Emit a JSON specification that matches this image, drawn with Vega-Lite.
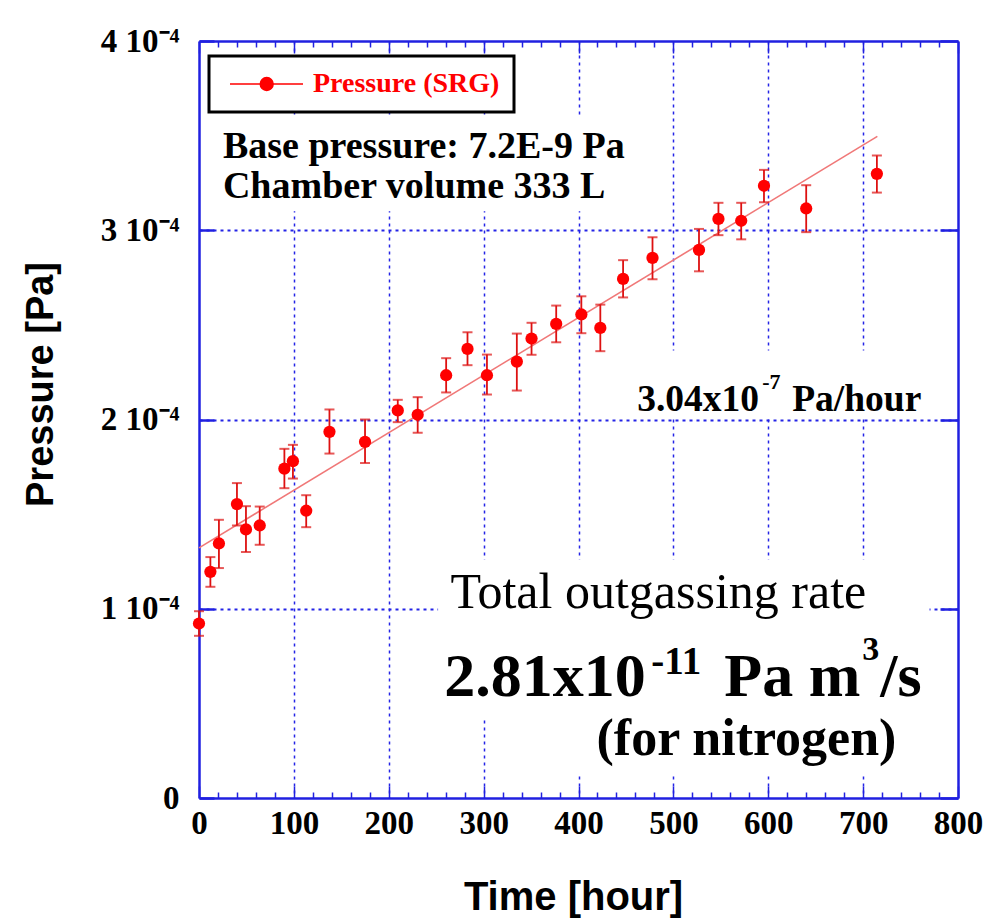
{
  "$schema": "https://vega.github.io/schema/vega-lite/v6.json",
  "width": 759,
  "height": 757,
  "autosize": {"type": "none"},
  "padding": {"left": 199, "top": 41, "right": 41, "bottom": 125},
  "background": "white",
  "config": {"view": {"stroke": null}},
  "data": {"values": [{"note": "annotation"}]},
  "datasets": {
    "pts": [
      {"t": 0, "p": 9.22e-5, "lo": 8.57e-5, "hi": 9.87e-5},
      {"t": 12, "p": 1.195e-4, "lo": 1.116e-4, "hi": 1.273e-4},
      {"t": 21, "p": 1.345e-4, "lo": 1.215e-4, "hi": 1.47e-4},
      {"t": 40, "p": 1.553e-4, "lo": 1.44e-4, "hi": 1.664e-4},
      {"t": 49.5, "p": 1.419e-4, "lo": 1.30e-4, "hi": 1.542e-4},
      {"t": 64, "p": 1.44e-4, "lo": 1.338e-4, "hi": 1.54e-4},
      {"t": 90, "p": 1.74e-4, "lo": 1.637e-4, "hi": 1.845e-4},
      {"t": 99, "p": 1.78e-4, "lo": 1.688e-4, "hi": 1.866e-4},
      {"t": 113, "p": 1.518e-4, "lo": 1.431e-4, "hi": 1.60e-4},
      {"t": 137.5, "p": 1.935e-4, "lo": 1.82e-4, "hi": 2.053e-4},
      {"t": 175, "p": 1.882e-4, "lo": 1.77e-4, "hi": 2.0e-4},
      {"t": 209.5, "p": 2.048e-4, "lo": 1.986e-4, "hi": 2.104e-4},
      {"t": 230.5, "p": 2.025e-4, "lo": 1.93e-4, "hi": 2.118e-4},
      {"t": 260.5, "p": 2.234e-4, "lo": 2.143e-4, "hi": 2.324e-4},
      {"t": 283, "p": 2.373e-4, "lo": 2.287e-4, "hi": 2.461e-4},
      {"t": 303.5, "p": 2.234e-4, "lo": 2.132e-4, "hi": 2.343e-4},
      {"t": 335, "p": 2.306e-4, "lo": 2.153e-4, "hi": 2.454e-4},
      {"t": 350.5, "p": 2.428e-4, "lo": 2.342e-4, "hi": 2.511e-4},
      {"t": 376.5, "p": 2.505e-4, "lo": 2.408e-4, "hi": 2.602e-4},
      {"t": 403, "p": 2.555e-4, "lo": 2.456e-4, "hi": 2.651e-4},
      {"t": 423, "p": 2.484e-4, "lo": 2.361e-4, "hi": 2.607e-4},
      {"t": 447, "p": 2.743e-4, "lo": 2.645e-4, "hi": 2.842e-4},
      {"t": 478, "p": 2.854e-4, "lo": 2.741e-4, "hi": 2.963e-4},
      {"t": 527, "p": 2.896e-4, "lo": 2.783e-4, "hi": 3.007e-4},
      {"t": 547.5, "p": 3.06e-4, "lo": 2.974e-4, "hi": 3.145e-4},
      {"t": 571.5, "p": 3.05e-4, "lo": 2.952e-4, "hi": 3.145e-4},
      {"t": 595.5, "p": 3.235e-4, "lo": 3.148e-4, "hi": 3.319e-4},
      {"t": 640, "p": 3.115e-4, "lo": 2.99e-4, "hi": 3.238e-4},
      {"t": 714.5, "p": 3.298e-4, "lo": 3.199e-4, "hi": 3.395e-4}
    ],
    "fit": [
      {"t": 0, "fit": 1.322e-4},
      {"t": 715, "fit": 3.496e-4}
    ]
  },
  "layer": [
    {
      "mark": {"type": "rect", "fill": "white"},
      "encoding": {
        "x": {"datum": 6, "type": "quantitative", "scale": {"domain": [0, 800], "nice": false}, "axis": null},
        "x2": {"datum": 464},
        "y": {"datum": 3.1e-4, "type": "quantitative", "scale": {"domain": [0, 4e-4], "nice": false}, "axis": null},
        "y2": {"datum": 3.6e-4}
      }
    },
    {
      "mark": {"type": "rect", "fill": "white"},
      "encoding": {
        "x": {"datum": 432, "type": "quantitative", "axis": null},
        "x2": {"datum": 797},
        "y": {"datum": 2.012e-4, "type": "quantitative", "axis": null},
        "y2": {"datum": 2.365e-4}
      }
    },
    {
      "mark": {"type": "rect", "fill": "white"},
      "encoding": {
        "x": {"datum": 252, "type": "quantitative", "axis": null},
        "x2": {"datum": 770},
        "y": {"datum": 0.426e-4, "type": "quantitative", "axis": null},
        "y2": {"datum": 1.26e-4}
      }
    },
    {
      "mark": {"type": "rect", "fill": "white"},
      "encoding": {
        "x": {"datum": 316, "type": "quantitative", "axis": null},
        "x2": {"datum": 770},
        "y": {"datum": 0.12e-4, "type": "quantitative", "axis": null},
        "y2": {"datum": 0.426e-4}
      }
    },
    {
      "data": {"name": "fit"},
      "mark": {"type": "line", "color": "#f07878", "strokeWidth": 1.6},
      "encoding": {
        "x": {
          "field": "t", "type": "quantitative",
          "scale": {"domain": [0, 800], "nice": false},
          "axis": {
            "orient": "top", "labels": false, "title": null, "grid": false,
            "values": [0,20,40,60,80,100,120,140,160,180,200,220,240,260,280,300,320,340,360,380,400,420,440,460,480,500,520,540,560,580,600,620,640,660,680,700,720,740,760,780,800],
            "tickSize": -12, "tickColor": "#2020e0", "tickWidth": 1.5,
            "tickDash": {"condition": {"test": "datum.value % 100 !== 0", "value": [6, 40]}, "value": [40, 0]},
            "domainColor": "#2020e0", "domainWidth": 2.5
          }
        },
        "y": {
          "field": "fit", "type": "quantitative",
          "scale": {"domain": [0, 4e-4], "nice": false},
          "axis": {
            "orient": "right", "labels": false, "title": null, "grid": false,
            "values": [0, 1e-4, 2e-4, 3e-4, 4e-4],
            "tickSize": -18, "tickColor": "#2020e0", "tickWidth": 2.5,
            "domainColor": "#2020e0", "domainWidth": 2.5
          }
        }
      }
    },
    {
      "data": {"name": "pts"},
      "mark": {"type": "errorbar", "ticks": {"size": 10, "thickness": 2, "color": "#dd1111"}, "rule": {"color": "#dd1111", "strokeWidth": 1.8}},
      "encoding": {
        "x": {"field": "t", "type": "quantitative", "scale": {"domain": [0, 800], "nice": false}, "axis": null},
        "y": {"field": "lo", "type": "quantitative", "scale": {"domain": [0, 4e-4], "nice": false}, "axis": null},
        "y2": {"field": "hi"}
      }
    },
    {
      "data": {"name": "pts"},
      "mark": {"type": "point", "filled": true, "size": 150, "opacity": 1},
      "encoding": {
        "x": {
          "field": "t", "type": "quantitative",
          "scale": {"domain": [0, 800], "nice": false},
          "axis": {
            "orient": "bottom",
            "values": [0,20,40,60,80,100,120,140,160,180,200,220,240,260,280,300,320,340,360,380,400,420,440,460,480,500,520,540,560,580,600,620,640,660,680,700,720,740,760,780,800],
            "format": "d",
            "labelExpr": "datum.value % 100 === 0 ? datum.label : ''",
            "labelFont": "Liberation Serif", "labelFontWeight": "bold", "labelFontSize": 33, "labelColor": "black",
            "labelPadding": 21, "labelFlush": false, "labelOverlap": false,
            "tickSize": -12, "tickColor": "#2020e0", "tickWidth": 1.5,
            "tickDash": {"condition": {"test": "datum.value % 100 !== 0", "value": [6, 40]}, "value": [40, 0]},
            "domainColor": "#2020e0", "domainWidth": 2.5,
            "grid": true, "gridColor": "#2424e6", "gridDash": [3, 4], "gridWidth": 1.5,
            "gridOpacity": {"condition": {"test": "datum.value % 100 === 0 && datum.value > 0 && datum.value < 800", "value": 1}, "value": 0},
            "title": "Time [hour]",
            "titleFont": "Liberation Sans", "titleFontWeight": "bold", "titleFontSize": 40, "titleColor": "black",
            "titleX": 374, "titleY": 111, "titleBaseline": "alphabetic", "titleAlign": "center"
          }
        },
        "y": {
          "field": "p", "type": "quantitative",
          "scale": {"domain": [0, 4e-4], "nice": false},
          "axis": {
            "orient": "left",
            "values": [0, 1e-4, 2e-4, 3e-4, 4e-4],
            "labelExpr": "datum.value === 0 ? '0' : round(datum.value * 1e4) + ' 10⁻⁴'",
            "labelFont": "Liberation Serif", "labelFontWeight": "bold", "labelFontSize": 33, "labelColor": "black",
            "labelPadding": 35, "labelFlush": false, "labelOverlap": false,
            "tickSize": -15, "tickColor": "#2020e0", "tickWidth": 2.5,
            "domainColor": "#2020e0", "domainWidth": 2.5,
            "grid": true, "gridColor": "#2424e6", "gridDash": [3, 4], "gridWidth": 2,
            "gridOpacity": {"condition": {"test": "datum.value > 1e-6 && datum.value < 3.9e-4", "value": 1}, "value": 0},
            "title": "Pressure [Pa]",
            "titleFont": "Liberation Sans", "titleFontWeight": "bold", "titleFontSize": 38, "titleColor": "black",
            "titleX": -158, "titleY": 343, "titleAngle": 270, "titleBaseline": "middle", "titleAlign": "center"
          }
        },
        "color": {
          "datum": "Pressure (SRG)", "type": "nominal",
          "scale": {"range": ["#ff0000"]},
          "legend": {
            "title": null, "orient": "none", "legendX": 10, "legendY": 15,
            "padding": 14, "strokeColor": "black", "fillColor": "white", "cornerRadius": 0,
            "symbolType": "M-0.7,0H6.6M3.62,0A0.65,0.65 0 1,1 2.32,0A0.65,0.65 0 1,1 3.62,0Z",
            "symbolSize": 400, "symbolOpacity": 1,
            "symbolFillColor": "#ff0000", "symbolStrokeColor": "#ff0000", "symbolStrokeWidth": 1.4,
            "labelOffset": 62, "labelLimit": 400,
            "labelFont": "Liberation Serif", "labelFontWeight": "bold", "labelFontSize": 28, "labelColor": "#ff0000",
            "encode": {
              "legend": {"update": {"strokeWidth": {"value": 3}}},
              "symbols": {"update": {"stroke": {"value": "#ff0000"}, "strokeWidth": {"value": 1.4}, "fill": {"value": "#ff0000"}}}
            }
          }
        }
      }
    },
    {
      "mark": {"type": "text", "text": "Base pressure: 7.2E-9 Pa", "font": "Liberation Serif", "fontWeight": "bold", "fontSize": 38, "align": "left", "baseline": "alphabetic", "color": "black"},
      "encoding": {
        "x": {"datum": 25.2, "type": "quantitative", "axis": null},
        "y": {"datum": 3.384e-4, "type": "quantitative", "axis": null}
      }
    },
    {
      "mark": {"type": "text", "text": "Chamber volume 333 L", "font": "Liberation Serif", "fontWeight": "bold", "fontSize": 38, "align": "left", "baseline": "alphabetic", "color": "black"},
      "encoding": {
        "x": {"datum": 25.2, "type": "quantitative", "axis": null},
        "y": {"datum": 3.173e-4, "type": "quantitative", "axis": null}
      }
    },
    {
      "mark": {"type": "text", "text": "3.04x10", "font": "Liberation Serif", "fontWeight": "bold", "fontSize": 37.5, "align": "left", "baseline": "alphabetic", "color": "black"},
      "encoding": {
        "x": {"datum": 461.8, "type": "quantitative", "axis": null},
        "y": {"datum": 2.0454e-4, "type": "quantitative", "axis": null}
      }
    },
    {
      "mark": {"type": "text", "text": "-7", "font": "Liberation Serif", "fontWeight": "bold", "fontSize": 22, "align": "left", "baseline": "alphabetic", "color": "black", "dx": 125, "dy": -22},
      "encoding": {
        "x": {"datum": 461.8, "type": "quantitative", "axis": null},
        "y": {"datum": 2.0454e-4, "type": "quantitative", "axis": null}
      }
    },
    {
      "mark": {"type": "text", "text": "Pa/hour", "font": "Liberation Serif", "fontWeight": "bold", "fontSize": 37.5, "align": "left", "baseline": "alphabetic", "color": "black", "dx": 155},
      "encoding": {
        "x": {"datum": 461.8, "type": "quantitative", "axis": null},
        "y": {"datum": 2.0454e-4, "type": "quantitative", "axis": null}
      }
    },
    {
      "mark": {"type": "text", "text": "Total outgassing rate", "font": "Liberation Serif", "fontWeight": "normal", "fontSize": 50, "align": "left", "baseline": "alphabetic", "color": "black"},
      "encoding": {
        "x": {"datum": 265, "type": "quantitative", "axis": null},
        "y": {"datum": 1.003e-4, "type": "quantitative", "axis": null}
      }
    },
    {
      "mark": {"type": "text", "text": "2.81x10", "font": "Liberation Serif", "fontWeight": "bold", "fontSize": 62, "align": "left", "baseline": "alphabetic", "color": "black"},
      "encoding": {
        "x": {"datum": 258.6, "type": "quantitative", "axis": null},
        "y": {"datum": 0.5378e-4, "type": "quantitative", "axis": null}
      }
    },
    {
      "mark": {"type": "text", "text": "-11", "font": "Liberation Serif", "fontWeight": "bold", "fontSize": 39, "align": "left", "baseline": "alphabetic", "color": "black", "dx": 207, "dy": -22},
      "encoding": {
        "x": {"datum": 258.6, "type": "quantitative", "axis": null},
        "y": {"datum": 0.5378e-4, "type": "quantitative", "axis": null}
      }
    },
    {
      "mark": {"type": "text", "text": "Pa m", "font": "Liberation Serif", "fontWeight": "bold", "fontSize": 62, "align": "left", "baseline": "alphabetic", "color": "black", "dx": 280},
      "encoding": {
        "x": {"datum": 258.6, "type": "quantitative", "axis": null},
        "y": {"datum": 0.5378e-4, "type": "quantitative", "axis": null}
      }
    },
    {
      "mark": {"type": "text", "text": "3", "font": "Liberation Serif", "fontWeight": "bold", "fontSize": 34, "align": "left", "baseline": "alphabetic", "color": "black", "dx": 418, "dy": -36},
      "encoding": {
        "x": {"datum": 258.6, "type": "quantitative", "axis": null},
        "y": {"datum": 0.5378e-4, "type": "quantitative", "axis": null}
      }
    },
    {
      "mark": {"type": "text", "text": "/s", "font": "Liberation Serif", "fontWeight": "bold", "fontSize": 62, "align": "left", "baseline": "alphabetic", "color": "black", "dx": 436},
      "encoding": {
        "x": {"datum": 258.6, "type": "quantitative", "axis": null},
        "y": {"datum": 0.5378e-4, "type": "quantitative", "axis": null}
      }
    },
    {
      "mark": {"type": "text", "text": "(for nitrogen)", "font": "Liberation Serif", "fontWeight": "bold", "fontSize": 52, "align": "left", "baseline": "alphabetic", "color": "black"},
      "encoding": {
        "x": {"datum": 419, "type": "quantitative", "axis": null},
        "y": {"datum": 0.227e-4, "type": "quantitative", "axis": null}
      }
    }
  ]
}
